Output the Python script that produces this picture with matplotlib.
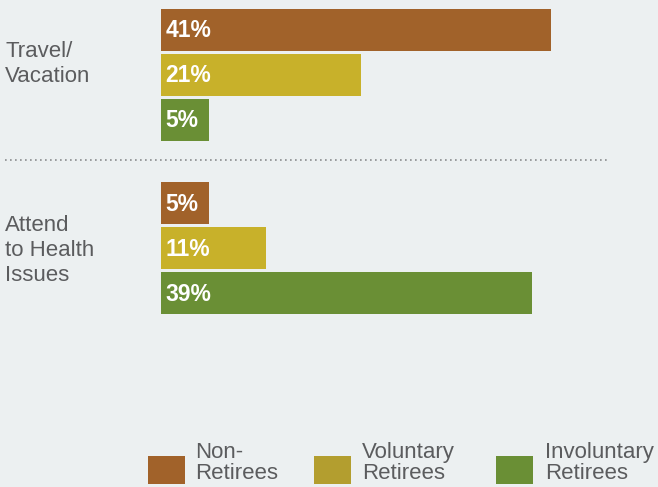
import matplotlib
matplotlib.use("Agg")
import matplotlib.pyplot as plt
from matplotlib.lines import Line2D
from matplotlib.patches import Rectangle
from matplotlib.transforms import blended_transform_factory

# data
groups = ["Travel/\nVacation", "Attend\nto Health\nIssues"]
series = ["Non-\nRetirees", "Voluntary\nRetirees", "Involuntary\nRetirees"]
travel = [41, 21, 5]
health = [5, 11, 39]

bar_colors = ["#A1622A", "#C8B12A", "#6A8F35"]
legend_colors = ["#A1622A", "#B39E2F", "#6A8F35"]
bg = "#ECF0F1"
txt = "#5B5C5E"

plt.rcParams["font.family"] = ["Liberation Sans", "DejaVu Sans"]

W, H = 658, 487
fig = plt.figure(figsize=(W / 100, H / 100), dpi=100, facecolor=bg)

# axes in pixel layout: bars start at x=161, one unit of y = 45 px
ax = fig.add_axes([161 / W, 1 - 340 / H, 497 / W, 340 / H])
ax.set_facecolor(bg)
ax.set_xlim(0, 497 / 9.5)
ax.set_ylim((340 - 30) / 45, -30 / 45)
ax.axis("off")

fig_x = blended_transform_factory(fig.transFigure, ax.transData)

group_pos = [[0, 1, 2], [3.85, 4.85, 5.85]]
label_y = [0.75, 4.9]
for vals, pos in zip([travel, health], group_pos):
    ax.barh(pos, vals, height=0.93, color=bar_colors, linewidth=0)
    for p, v in zip(pos, vals):
        ax.text(0.5, p + 0.02, f"{v}%", color="white", fontsize=16.5,
                fontweight="bold", va="center", ha="left")

# group labels at the left edge
for g, y in zip(groups, label_y):
    ax.text(5 / W, y, g, transform=fig_x, color=txt, fontsize=16,
            va="center", ha="left", linespacing=1.25)

# dotted separator between the groups
sep = Line2D([5 / W, 608 / W], [2.89, 2.89], color="#8a8c8e",
             linestyle=(0, (1, 2)), linewidth=1.2, transform=fig_x,
             clip_on=False)
fig.add_artist(sep)

# legend
sq_x = [148, 314, 496]
tx_x = [195, 362, 545]
for c, s, sx, tx in zip(legend_colors, series, sq_x, tx_x):
    fig.add_artist(Rectangle((sx / W, 1 - 484 / H), 37 / W, 28 / H,
                             transform=fig.transFigure, color=c, linewidth=0))
    fig.text(tx / W, 1 - 463 / H, s, color=txt, fontsize=16, va="center",
             ha="left", linespacing=0.95)

fig.savefig("out.png", dpi=100, facecolor=bg)
